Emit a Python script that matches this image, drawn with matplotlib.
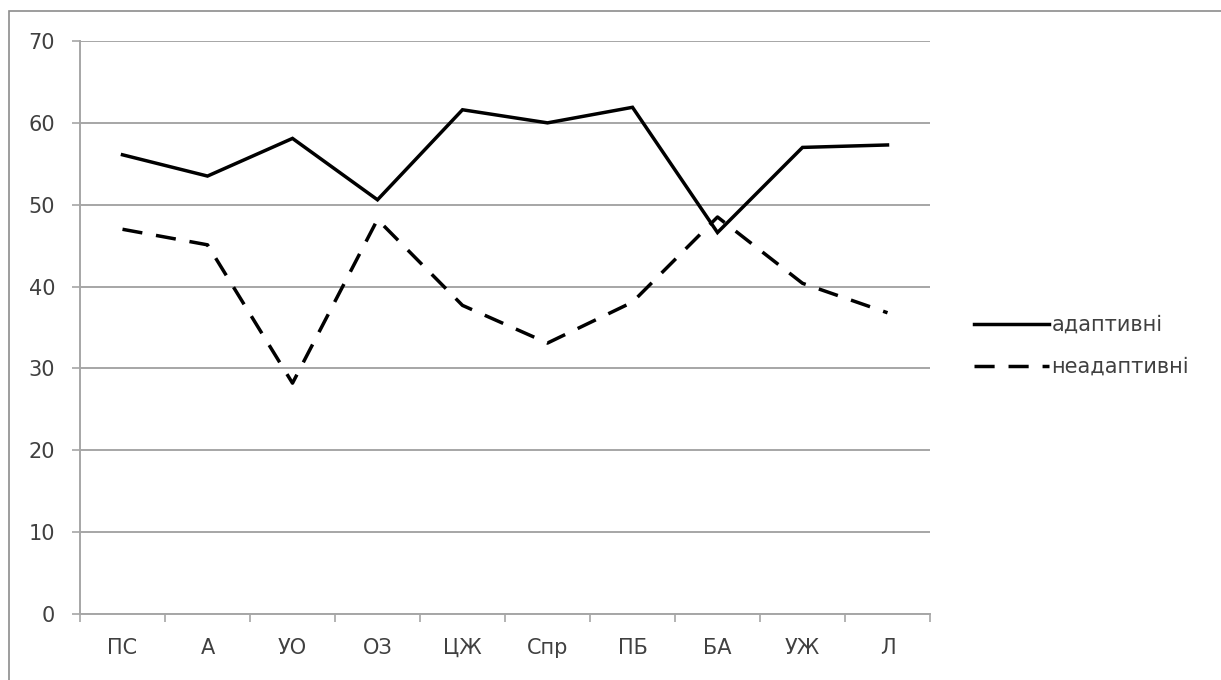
import matplotlib
matplotlib.use("Agg")
import matplotlib.pyplot as plt
from matplotlib.patches import Rectangle
from matplotlib.lines import Line2D

categories = ["ПС", "А", "УО", "ОЗ", "ЦЖ", "Спр", "ПБ", "БА", "УЖ", "Л"]
adaptive = [56.1, 53.5, 58.1, 50.6, 61.6, 60.0, 61.9, 46.6, 57.0, 57.3]
maladaptive = [47.0, 45.1, 28.2, 48.2, 37.7, 33.1, 38.1, 48.5, 40.4, 36.8]
series_names = ["адаптивні", "неадаптивні"]
y_ticks = [0, 10, 20, 30, 40, 50, 60, 70]

W, H, DPI = 1221, 680, 100
plt.rcParams["font.family"] = ["DejaVu Sans"]
text_color = "#404040"
grid_color = "#a6a6a6"
fs = 15

fig = plt.figure(figsize=(W / DPI, H / DPI), dpi=DPI)
fig.patch.set_facecolor("white")

# outer chart frame
fig.patches.append(Rectangle((9 / W, -0.1), 1.2, 1 - 11 / H + 0.1,
                             transform=fig.transFigure, fill=False,
                             edgecolor="#8c8c8c", linewidth=1.2))

ax = fig.add_axes([80 / W, 1 - 614 / H, (930 - 80) / W, (614 - 41) / H])
x = list(range(len(categories)))

ax.set_ylim(0, 70)
ax.set_xlim(-0.5, len(categories) - 0.5)
ax.set_yticks(y_ticks)
ax.set_yticklabels([str(v) for v in y_ticks])
ax.yaxis.grid(True, color=grid_color, linewidth=1.4)
ax.set_axisbelow(True)

ax.set_xticks(x)
ax.set_xticklabels(categories)
ax.set_xticks([i - 0.5 for i in range(len(categories) + 1)], minor=True)
ax.tick_params(axis="x", which="major", length=0, pad=17,
               labelsize=fs, labelcolor=text_color)
ax.tick_params(axis="x", which="minor", length=5.5, width=1.2, color=grid_color)
ax.tick_params(axis="y", which="major", length=6, width=1.2, color=grid_color,
               pad=12, labelsize=fs, labelcolor=text_color)
for lbl in ax.get_yticklabels():
    lbl.set_verticalalignment("center_baseline")

for side in ("top", "right"):
    ax.spines[side].set_visible(False)
for side in ("left", "bottom"):
    ax.spines[side].set_color(grid_color)
    ax.spines[side].set_linewidth(1.4)

lw = 2.5
dash = (0, (5.8, 4.0))
ax.plot(x, adaptive, color="black", linewidth=lw, solid_joinstyle="miter",
        label=series_names[0], clip_on=False)
ax.plot(x, maladaptive, color="black", linewidth=lw, linestyle=dash,
        dash_capstyle="butt", label=series_names[1], clip_on=False)

handles = [
    Line2D([], [], color="black", linewidth=lw),
    Line2D([], [], color="black", linewidth=lw, linestyle=dash,
           dash_capstyle="butt"),
]
leg = fig.legend(handles, series_names, loc="center left",
                 bbox_to_anchor=(964 / W, 1 - 346 / H), frameon=False,
                 fontsize=fs, handlelength=3.6, handletextpad=0.1,
                 labelspacing=1.05, borderpad=0)
for t in leg.get_texts():
    t.set_color(text_color)

fig.savefig("out.png", dpi=DPI, facecolor="white")
